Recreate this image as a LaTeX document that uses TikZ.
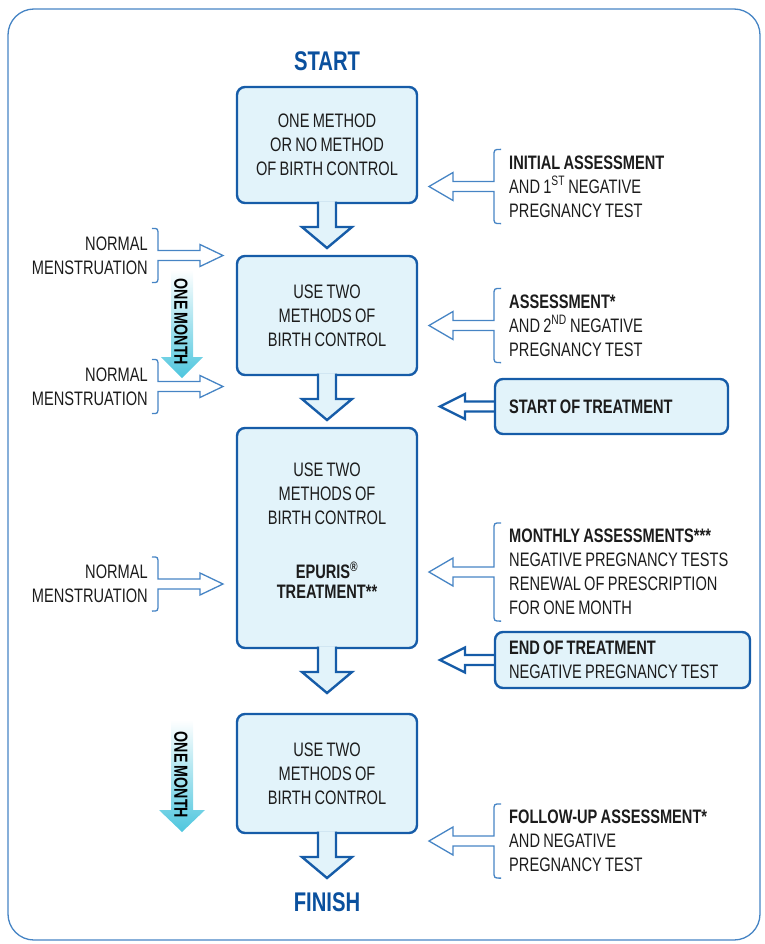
\documentclass[tikz,border=0pt]{standalone}
\usepackage{fontspec}
\setmainfont{Liberation Sans}[FakeStretch=0.75,WordSpace=0.8]
\usetikzlibrary{positioning,calc}
\definecolor{boxblue}{RGB}{22,92,168}
\definecolor{lineblue}{RGB}{70,132,196}
\definecolor{titleblue}{RGB}{10,80,158}
\definecolor{boxfill}{RGB}{226,243,250}
\definecolor{textgray}{RGB}{28,28,28}
\definecolor{monthcyan}{RGB}{78,198,222}

% block arrow from one step box down towards the next
\newcommand\flowdown[3][8pt]{%
  \draw[flowarrow] let \p1=(#2.south), \p2=(#3.north) in
    (\x1-9pt,\y1+1.5pt) -- (\x1-9pt,\y2+#1+21pt) -- (\x1-25pt,\y2+#1+21pt) -- (\x1,\y2+#1)
    -- (\x1+25pt,\y2+#1+21pt) -- (\x1+9pt,\y2+#1+21pt) -- (\x1+9pt,\y1+1.5pt);}
% bracket left of a note, hollow arrow pointing back at a box
\newcommand\assessarrow[2]{%
  \draw[thinarrow] let \p1=(#1.north west), \p2=(#1.south west), \p3=(#2.east),
    \p4=($(#1.north west)!.5!(#1.south west)$) in
    (\x1-8pt,\y1+6pt) .. controls (\x1-15pt,\y1+6pt) .. (\x1-15pt,\y1-1pt)
    -- (\x1-15pt,\y4+5pt) -- (\x3+36pt,\y4+5pt) -- (\x3+36pt,\y4+14pt)
    -- (\x3+12pt,\y4) -- (\x3+36pt,\y4-14pt) -- (\x3+36pt,\y4-5pt)
    -- (\x1-15pt,\y4-5pt) -- (\x1-15pt,\y2+1pt)
    .. controls (\x1-15pt,\y2-6pt) .. (\x1-8pt,\y2-6pt);}
% bracket right of a note, hollow arrow pointing at a box
\newcommand\menstarrow[2]{%
  \draw[thinarrow] let \p1=(#1.north east), \p2=(#1.south east), \p3=(#2.west),
    \p4=($(#1.north east)!.5!(#1.south east)$) in
    (\x1+4pt,\y1+8pt) .. controls (\x1+10pt,\y1+8pt) .. (\x1+10pt,\y1+1pt)
    -- (\x1+10pt,\y4+5pt) -- (\x3-37pt,\y4+5pt) -- (\x3-37pt,\y4+11pt)
    -- (\x3-14pt,\y4) -- (\x3-37pt,\y4-11pt) -- (\x3-37pt,\y4-5pt)
    -- (\x1+10pt,\y4-5pt) -- (\x1+10pt,\y2-1pt)
    .. controls (\x1+10pt,\y2-8pt) .. (\x1+4pt,\y2-8pt);}
% thick hollow arrow out of a note box
\newcommand\treatarrow[2]{%
  \draw[treatline] let \p1=(#1.west), \p3=(#2.east) in
    (\x1,\y1+5pt) -- (\x3+48pt,\y1+5pt) -- (\x3+48pt,\y1+12.5pt) -- (\x3+23pt,\y1)
    -- (\x3+48pt,\y1-12.5pt) -- (\x3+48pt,\y1-5pt) -- (\x1,\y1-5pt);}

\begin{document}
\begin{tikzpicture}[x=1pt,y=-1pt,font=\fontsize{19.5}{24}\selectfont,
  stepbox/.style={draw=boxblue,fill=boxfill,line width=2.4pt,rounded corners=8pt,outer sep=0pt,minimum width=180pt,align=center,text=textgray},
  notebox/.style={draw=boxblue,fill=boxfill,line width=2.4pt,rounded corners=8pt,outer sep=0pt,inner xsep=14pt,align=flush left,text=textgray,anchor=north west},
  sidetext/.style={inner sep=0pt,align=left,anchor=west,text=textgray},
  mentext/.style={inner sep=0pt,align=right,anchor=east,text=textgray},
  title/.style={inner sep=0pt,text=titleblue,font=\fontsize{27}{30}\selectfont\bfseries},
  monthtext/.style={inner sep=0pt,text=black,font=\fontsize{19}{22}\selectfont\bfseries},
  flowarrow/.style={draw=boxblue,fill=boxfill,line width=2.4pt,line join=miter},
  thinarrow/.style={draw=lineblue,line width=1.3pt},
  treatline/.style={draw=boxblue,line width=2.4pt,line join=miter}]
\useasboundingbox (0,0) rectangle (764,944);
\draw[lineblue,line width=1.3pt,rounded corners=26pt] (8,9) rectangle (760,940);

% main flow
\node[stepbox,minimum height=116pt] (b1) at (327,145) {ONE METHOD\\OR NO METHOD\\OF BIRTH CONTROL};
\node[stepbox,minimum height=119pt,below=53pt of b1] (b2) {USE TWO\\METHODS OF\\BIRTH CONTROL};
\node[stepbox,minimum height=220pt,text depth=14pt,below=53pt of b2] (b3) {USE TWO\\METHODS OF\\BIRTH CONTROL\\[30pt]\textbf{EPURIS\textsuperscript{\textregistered}}\\[-4pt]\textbf{TREATMENT**}};
\node[stepbox,minimum height=119pt,below=66pt of b3] (b4) {USE TWO\\METHODS OF\\BIRTH CONTROL};
\node[title,above=16pt of b1] (start) {START};
\node[title,below=59pt of b4] (finish) {FINISH};

\flowdown{b1}{b2}
\flowdown{b2}{b3}
\flowdown[21pt]{b3}{b4}
\flowdown[14pt]{b4}{finish}

% right side
\node[sidetext] (init) at (509,186.5) {\textbf{INITIAL ASSESSMENT}\\AND 1\textsuperscript{ST} NEGATIVE\\PREGNANCY TEST};
\node[sidetext] (assess) at (509,325.5) {\textbf{ASSESSMENT*}\\AND 2\textsuperscript{ND} NEGATIVE\\PREGNANCY TEST};
\node[notebox,minimum height=55pt,text width=205pt] (starttr) at (495,379) {\textbf{START OF TREATMENT}};
\node[sidetext] (monthly) at (509,572) {\textbf{MONTHLY ASSESSMENTS***}\\NEGATIVE PREGNANCY TESTS\\RENEWAL OF PRESCRIPTION\\FOR ONE MONTH};
\node[notebox,minimum height=56pt,text width=227pt] (endtr) at (495,632) {\textbf{END OF TREATMENT}\\NEGATIVE PREGNANCY TEST};
\node[sidetext] (follow) at (509,841) {\textbf{FOLLOW-UP ASSESSMENT*}\\AND NEGATIVE\\PREGNANCY TEST};

\assessarrow{init}{b1}
\assessarrow{assess}{b2}
\treatarrow{starttr}{b3}
\assessarrow{monthly}{b3}
\treatarrow{endtr}{b3}
\assessarrow{follow}{b4}

% left side
\node[mentext] (mens1) at (148,255.5) {NORMAL\\MENSTRUATION};
\node[mentext] (mens2) at (148,386.5) {NORMAL\\MENSTRUATION};
\node[mentext] (mens3) at (148,584) {NORMAL\\MENSTRUATION};
\menstarrow{mens1}{b2}
\menstarrow{mens2}{b2}
\menstarrow{mens3}{b3}

% one month arrows
\shade[top color=white,bottom color=monthcyan] (171,270) -- (171,357) -- (161,357) -- (182,378) -- (203,357) -- (193,357) -- (193,270) -- cycle;
\shade[top color=white,bottom color=monthcyan] (171,720) -- (171,810) -- (159,810) -- (182,832) -- (205,810) -- (193,810) -- (193,720) -- cycle;
\node[monthtext,rotate=-90] (month1) at (181,322) {ONE MONTH};
\node[monthtext,rotate=-90] (month2) at (181,775) {ONE MONTH};
\end{tikzpicture}
\end{document}
